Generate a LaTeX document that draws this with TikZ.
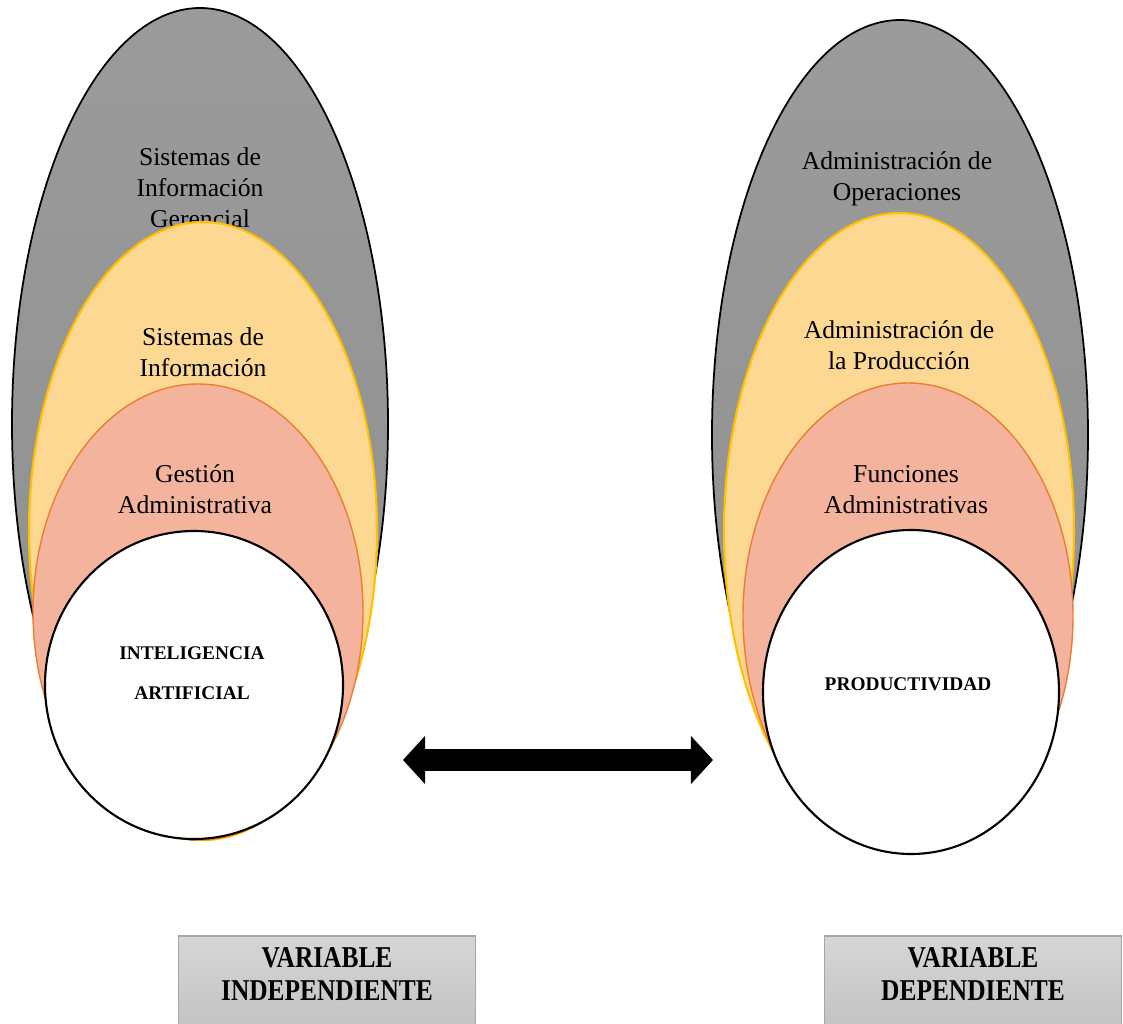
\documentclass[tikz,border=0pt]{standalone}
\usepackage{fontspec}
\setmainfont{Liberation Serif}
\newfontfamily\narrowfont[FakeStretch=0.84]{Liberation Serif}
\usepackage{xcolor}
\usepackage{tikz}
\usetikzlibrary{arrows.meta, positioning}

\definecolor{ovaltop}{HTML}{9B9B9B}
\definecolor{ovalbot}{HTML}{8E8E8E}
\definecolor{ovalyellow}{HTML}{FDD893}
\definecolor{ovalgold}{HTML}{FFC000}
\definecolor{ovalsalmon}{HTML}{F4B39C}
\definecolor{ovalorange}{HTML}{ED7D31}
\definecolor{boxtop}{HTML}{D6D6D6}
\definecolor{boxbot}{HTML}{BDBDBD}
\definecolor{boxline}{HTML}{A6A6A6}

\begin{document}
\begin{tikzpicture}[x=0.01cm, y=-0.01cm,
    grayoval/.style={draw=black, line width=0.5pt, top color=ovaltop, bottom color=ovalbot},
    yellowoval/.style={draw=ovalgold, line width=0.6pt, fill=ovalyellow},
    salmonoval/.style={draw=ovalorange, line width=0.4pt, fill=ovalsalmon},
    coreoval/.style={draw=black, line width=0.6pt, fill=white},
    lbl/.style={font=\fontsize{7.3}{8.8}\selectfont, align=center, inner sep=0pt},
    core/.style={font=\bfseries\fontsize{5.5}{11.4}\selectfont, align=center, inner sep=0pt},
    varbox/.style={draw=boxline, line width=0.5pt, top color=boxtop, bottom color=boxbot,
        minimum width=2.97cm, minimum height=1.2cm, anchor=north, inner sep=0pt},
    vartxt/.style={font=\narrowfont\bfseries\fontsize{8.6}{9.4}\selectfont, align=center, inner sep=0pt}]
        \useasboundingbox (0,0) rectangle (1123,1024);
        \clip (0,0) rectangle (1123,1024);

        % The independent variable
        \draw[grayoval] (200,424) ellipse [x radius=188, y radius=416];
        \node[lbl] (sig) at (200,188) {Sistemas de\\Información\\Gerencial};
        \draw[yellowoval] (203,531) ellipse [x radius=174, y radius=309];
        \node[lbl] (si) at (203,352) {Sistemas de\\Información};
        \draw[salmonoval] (198,612) ellipse [x radius=165, y radius=228];
        \node[lbl] (ga) at (195,489) {Gestión\\Administrativa};
        \draw[coreoval] (194,685) ellipse [x radius=149, y radius=154];
        \node[core] (ia) at (192,673) {INTELIGENCIA\\ARTIFICIAL};

        % The dependent variable
        \draw[grayoval] (900,435) ellipse [x radius=188, y radius=415];
        \node[lbl] (ao) at (897,179) {Administración de\\Operaciones};
        \draw[yellowoval] (899,531) ellipse [x radius=175, y radius=318];
        \node[lbl] (ap) at (899,345) {Administración de\\la Producción};
        \draw[salmonoval] (908,616) ellipse [x radius=165, y radius=233];
        \node[lbl] (fa) at (906,490) {Funciones\\Administrativas};
        \draw[coreoval] (911,692) ellipse [x radius=148, y radius=162];
        \node[core] (pr) at (908,684) {PRODUCTIVIDAD};

        % The two-way arrow
        \coordinate (la) at (403,760);
        \coordinate (ra) at (713,760);
        \draw[line width=6.3pt, {Triangle[length=6.3pt, width=13.4pt]}-{Triangle[length=6.3pt, width=13.4pt]}] (la) -- (ra);

        % Labels for variables
        \node[varbox] (vibox) at (327,935) {};
        \node[vartxt] (vitxt) at (327,974) {VARIABLE\\INDEPENDIENTE};
        \node[varbox] (vdbox) at (973,935) {};
        \node[vartxt] (vdtxt) at (973,974) {VARIABLE\\DEPENDIENTE};
    \end{tikzpicture}
\end{document}
